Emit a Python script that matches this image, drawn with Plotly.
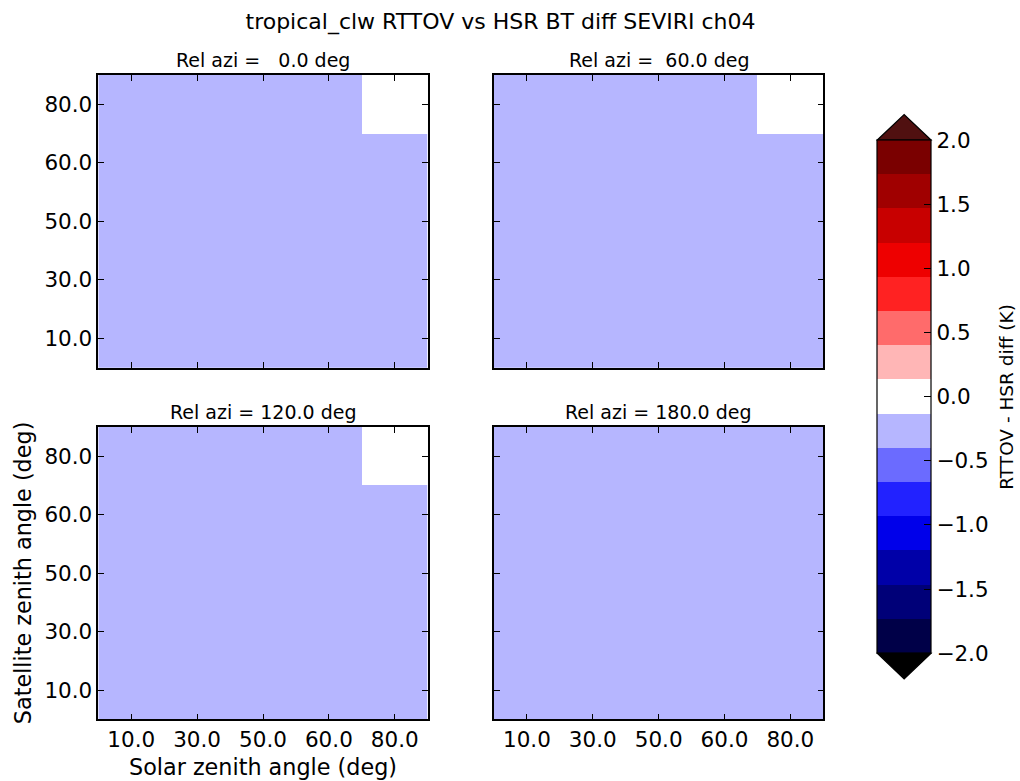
import numpy as np
import plotly.graph_objects as go
from plotly.subplots import make_subplots

W, H = 1020, 781

# ---------------- data ----------------
sol_zen = [10.0, 30.0, 50.0, 60.0, 80.0]      # x categories (solar zenith)
sat_zen = [10.0, 30.0, 50.0, 60.0, 80.0]      # y categories (satellite zenith)
rel_azi = [0.0, 60.0, 120.0, 180.0]           # panel relative azimuths

# rows = satellite zenith (10 -> 80), cols = solar zenith (10 -> 80)
diff_azi000 = [
    [-0.20, -0.20, -0.20, -0.20, -0.20],
    [-0.20, -0.20, -0.20, -0.20, -0.20],
    [-0.20, -0.20, -0.20, -0.20, -0.20],
    [-0.20, -0.20, -0.20, -0.20, -0.20],
    [-0.20, -0.20, -0.20, -0.20, -0.05],
]
diff_azi060 = [
    [-0.20, -0.20, -0.20, -0.20, -0.20],
    [-0.20, -0.20, -0.20, -0.20, -0.20],
    [-0.20, -0.20, -0.20, -0.20, -0.20],
    [-0.20, -0.20, -0.20, -0.20, -0.20],
    [-0.20, -0.20, -0.20, -0.20, -0.05],
]
diff_azi120 = [
    [-0.20, -0.20, -0.20, -0.20, -0.20],
    [-0.20, -0.20, -0.20, -0.20, -0.20],
    [-0.20, -0.20, -0.20, -0.20, -0.20],
    [-0.20, -0.20, -0.20, -0.20, -0.20],
    [-0.20, -0.20, -0.20, -0.20, -0.05],
]
diff_azi180 = [
    [-0.20, -0.20, -0.20, -0.20, -0.20],
    [-0.20, -0.20, -0.20, -0.20, -0.20],
    [-0.20, -0.20, -0.20, -0.20, -0.20],
    [-0.20, -0.20, -0.20, -0.20, -0.20],
    [-0.20, -0.20, -0.20, -0.20, -0.20],
]
panels = [diff_azi000, diff_azi060, diff_azi120, diff_azi180]

cbar_min, cbar_max = -2.0, 2.0
cbar_ticks = [-2.0, -1.5, -1.0, -0.5, 0.0, 0.5, 1.0, 1.5, 2.0]
band_colors = ["#000048", "#000078", "#0000a8", "#0000ea", "#2222ff", "#6b6bff",
               "#b6b6ff", "#ffffff", "#ffb6b6", "#ff6b6b", "#ff2222", "#ee0000",
               "#c80000", "#a00000", "#7a0000"]
under_color = "#000000"
over_color = "#501010"

title_text = "tropical_clw RTTOV vs HSR BT diff SEVIRI ch04"
xlabel = "Solar zenith angle (deg)"
ylabel = "Satellite zenith angle (deg)"
cbar_label = "RTTOV - HSR diff (K)"

# ---------------- styling / layout ----------------
FONT = "DejaVu Sans"
TICK = 21.5
LABEL = 22.3
TITLE = 22.0
SUB = 19.0
CBL = 18.5

def px_x(p):
    return p / W

def px_y(p):
    return 1 - p / H

col_dom = [(98.3, 427.7), (494.0, 823.3)]
row_dom = [(75.0, 367.7), (427.0, 719.3)]

n = len(band_colors)
colorscale = []
for i, c in enumerate(band_colors):
    colorscale.append([i / n, c])
    colorscale.append([(i + 1) / n, c])

fig = make_subplots(rows=2, cols=2)

xcat = [f"{v:.1f}" for v in sol_zen]
ycat = [f"{v:.1f}" for v in sat_zen]

for k, z in enumerate(panels):
    r, c = k // 2 + 1, k % 2 + 1
    fig.add_trace(go.Heatmap(z=z, x=xcat, y=ycat, coloraxis="coloraxis",
                             hoverinfo="skip"), row=r, col=c)

axis_common = dict(showline=True, linecolor="black", linewidth=1.5, mirror="ticks",
                   ticks="inside", ticklen=6, tickwidth=1.3, tickcolor="black",
                   showgrid=False, zeroline=False, type="category",
                   tickfont=dict(family=FONT, size=TICK, color="black"),
                   automargin=False)

annotations = []
for k in range(4):
    r, c = k // 2, k % 2
    idx = "" if k == 0 else str(k + 1)
    xd = [px_x(col_dom[c][0]), px_x(col_dom[c][1])]
    yd = [px_y(row_dom[r][1]), px_y(row_dom[r][0])]
    fig.update_layout(**{
        "xaxis" + idx: dict(axis_common, domain=xd, showticklabels=(r == 1),
                            range=[-0.5, len(sol_zen) - 0.5]),
        "yaxis" + idx: dict(axis_common, domain=yd, showticklabels=(c == 0),
                            range=[-0.5, len(sat_zen) - 0.5]),
    })
    ttl = f"Rel azi = {rel_azi[k]:5.1f} deg".replace(" ", "\u00a0")
    annotations.append(dict(text=ttl, xref="paper", yref="paper",
                            x=(xd[0] + xd[1]) / 2, y=yd[1], xanchor="center",
                            yanchor="bottom", yshift=2, showarrow=False,
                            font=dict(family=FONT, size=SUB, color="black")))

# axis labels (bottom-left panel)
annotations.append(dict(text=xlabel, xref="paper", yref="paper",
                        x=px_x((col_dom[0][0] + col_dom[0][1]) / 2), y=px_y(767),
                        xanchor="center", yanchor="middle", showarrow=False,
                        font=dict(family=FONT, size=LABEL, color="black")))
annotations.append(dict(text=ylabel, xref="paper", yref="paper",
                        x=px_x(23), y=px_y((row_dom[1][0] + row_dom[1][1]) / 2),
                        xanchor="center", yanchor="middle", textangle=-90,
                        showarrow=False,
                        font=dict(family=FONT, size=LABEL, color="black")))

# colorbar geometry (pixels)
cb_left, cb_right = 877.3, 931.0
cb_top, cb_bot = 140.0, 653.3
tri_h = 25.5

annotations.append(dict(text=cbar_label, xref="paper", yref="paper",
                        x=px_x(1007), y=px_y((cb_top + cb_bot) / 2),
                        xanchor="center", yanchor="middle", textangle=-90,
                        showarrow=False,
                        font=dict(family=FONT, size=CBL, color="black")))

tick_text = [f"{v:.1f}".replace("-", "\u2212") for v in cbar_ticks]

fig.update_layout(
    coloraxis=dict(
        colorscale=colorscale, cmin=cbar_min, cmax=cbar_max,
        colorbar=dict(
            x=px_x(cb_left), xanchor="left", xpad=0, ypad=0,
            y=px_y((cb_top + cb_bot) / 2), yanchor="middle",
            thicknessmode="pixels", thickness=cb_right - cb_left,
            lenmode="pixels", len=cb_bot - cb_top,
            outlinewidth=1.2, outlinecolor="black",
            tickmode="array", tickvals=cbar_ticks, ticktext=tick_text,
            ticks="inside", ticklen=7, tickwidth=1.3, tickcolor="black",
            tickfont=dict(family=FONT, size=TICK, color="black"),
        ),
    ),
)

xm = (cb_left + cb_right) / 2
shapes = [
    dict(type="path", xref="paper", yref="paper", layer="above",
         path=f"M {px_x(cb_left)},{px_y(cb_top)} L {px_x(cb_right)},{px_y(cb_top)} "
              f"L {px_x(xm)},{px_y(cb_top - tri_h)} Z",
         fillcolor=over_color, line=dict(color="black", width=1.2)),
    dict(type="path", xref="paper", yref="paper", layer="above",
         path=f"M {px_x(cb_left)},{px_y(cb_bot)} L {px_x(cb_right)},{px_y(cb_bot)} "
              f"L {px_x(xm)},{px_y(cb_bot + tri_h)} Z",
         fillcolor=under_color, line=dict(color="black", width=1.2)),
]

fig.update_layout(
    width=W, height=H,
    margin=dict(l=0, r=0, t=0, b=0, pad=0),
    paper_bgcolor="white", plot_bgcolor="white",
    font=dict(family=FONT, color="black"),
    title=dict(text=title_text, x=px_x(500.5), xanchor="center",
               xref="paper", yref="container", y=1 - 21 / H, yanchor="middle",
               font=dict(family=FONT, size=TITLE, color="black")),
    annotations=annotations, shapes=shapes, showlegend=False,
)

fig.write_html("out.html")
